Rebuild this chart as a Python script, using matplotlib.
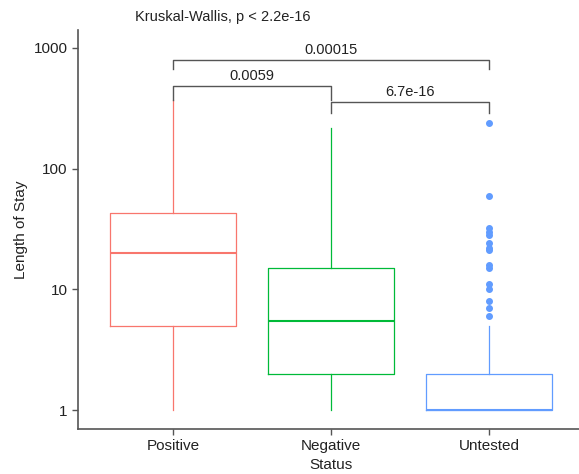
import numpy as np
import matplotlib.pyplot as plt

plt.rcParams['font.family'] = ['Liberation Sans', 'DejaVu Sans']

# box statistics
groups = ['Positive', 'Negative', 'Untested']
colors = ['#F8766D', '#00BA38', '#619CFF']
whislo = [1, 1, 1]
q1 = [5, 2, 1]
med = [20, 5.5, 1]
q3 = [43, 15, 2]
whishi = [370, 218, 5]
fliers = [[], [], [240, 59, 32, 30, 28, 24, 22, 21, 16, 15, 11, 10, 8, 7, 6]]

# pairwise comparisons: (group a, group b, bar height, tip height, label)
comparisons = [
    (1, 2, 485, 370, '0.0059'),
    (2, 3, 358, 290, '6.7e-16'),
    (1, 3, 796, 670, '0.00015'),
]

fig = plt.figure(figsize=(5.79, 4.74), dpi=100)
ax = fig.add_axes([0.1347, 0.0949, 0.874, 0.842])

stats = []
for i in range(3):
    stats.append(dict(whislo=whislo[i], q1=q1[i], med=med[i], q3=q3[i],
                      whishi=whishi[i], fliers=fliers[i]))

for i, st in enumerate(stats):
    c = colors[i]
    ax.bxp([st], positions=[i + 1], widths=0.8, showcaps=False,
           boxprops=dict(color=c, linewidth=0.9),
           whiskerprops=dict(color=c, linewidth=0.9),
           medianprops=dict(color=c, linewidth=1.5),
           flierprops=dict(marker='o', markerfacecolor=c, markeredgecolor=c,
                           markersize=4, linestyle='none'))

ax.set_yscale('log')
ax.set_ylim(0.697, 1409)
ax.set_xlim(0.4, 3.6)
ax.set_yticks([1, 10, 100, 1000])
ax.set_yticklabels(['1', '10', '100', '1000'])
ax.minorticks_off()
ax.set_xticks([1, 2, 3])
ax.set_xticklabels(groups)

for a, b, h, tip, lab in comparisons:
    ax.plot([a, a, b, b], [tip, h, h, tip], color='#555555', linewidth=1.0)
    ax.text((a + b) / 2, h * 1.06, lab, ha='center', va='bottom',
            fontsize=10.5, color='#222222')

ax.text(0.113, 1.015, 'Kruskal-Wallis, p < 2.2e-16', transform=ax.transAxes,
        ha='left', va='bottom', fontsize=10.5, color='#222222')

ax.set_xlabel('Status', fontsize=11, color='#222222', labelpad=3)
ax.set_ylabel('Length of Stay', fontsize=11, color='#222222', labelpad=4)

for s in ['top', 'right']:
    ax.spines[s].set_visible(False)
for s in ['left', 'bottom']:
    ax.spines[s].set_color('#555555')
    ax.spines[s].set_linewidth(1.2)
ax.tick_params(axis='both', length=4, width=1.0, color='#555555',
               labelsize=11, labelcolor='#222222')

fig.savefig('out.png', dpi=100)
